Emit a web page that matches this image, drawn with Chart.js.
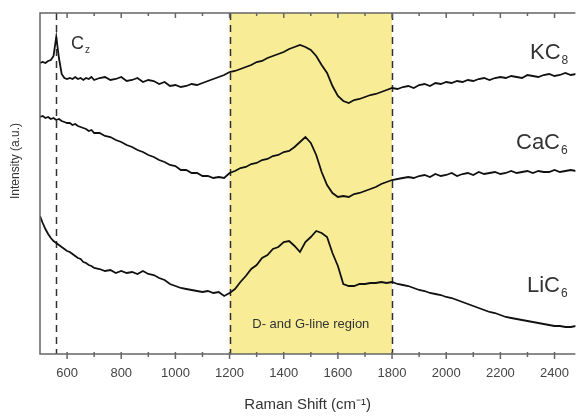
<!DOCTYPE html>
<html>
<head>
<meta charset="utf-8">
<script src="https://cdn.jsdelivr.net/npm/chart.js@4.4.1/dist/chart.umd.min.js"></script>
<style>
  body { margin: 0; background: #fff; }
</style>
</head>
<body>
<canvas id="ramanChart" width="581" height="417"></canvas>
<script>
// Raman shift (cm-1) sample positions, finer near the Cz peak
const shift = [
  500, 510, 520, 530, 540, 550, 560, 570, 580, 590, 600, 610, 620, 630, 640, 650, 660, 670, 680, 690, 700,
  720, 740, 760, 780, 800, 820, 840, 860, 880, 900, 920, 940, 960, 980, 1000, 1020, 1040, 1060, 1080, 1100,
  1120, 1140, 1160, 1180, 1200, 1220, 1240, 1260, 1280, 1300, 1320, 1340, 1360, 1380, 1400, 1420, 1440, 1460,
  1480, 1500, 1520, 1540, 1560, 1580, 1600, 1620, 1640, 1660, 1680, 1700, 1720, 1740, 1760, 1780, 1800,
  1820, 1840, 1860, 1880, 1900, 1920, 1940, 1960, 1980, 2000, 2020, 2040, 2060, 2080, 2100, 2120, 2140,
  2160, 2180, 2200, 2220, 2240, 2260, 2280, 2300, 2320, 2340, 2360, 2380, 2400, 2420, 2440, 2460, 2480
];

// intensities (a.u., curves already offset as in the figure)
const kc8 = [
  291, 292, 291, 293, 294, 298, 317, 296, 280, 276, 275, 276, 275, 277, 275, 276, 274, 276, 275, 277, 274,
  276, 277, 274, 275, 277, 273, 274, 276, 272, 274, 273, 270, 272, 268, 269, 267, 268, 270, 269, 271,
  273, 275, 277, 279, 282, 283, 285, 287, 289, 292, 293, 296, 298, 300, 302, 305, 307, 309,
  307, 304, 298, 289, 281, 268, 258, 253, 251, 254, 255, 257, 259, 260, 262, 264, 266,
  265, 267, 268, 266, 269, 270, 268, 271, 270, 272, 271, 273, 272, 274, 273, 275, 276,
  274, 276, 277, 276, 278, 277, 276, 279, 278, 277, 279, 280, 278, 279, 281, 279, 280
];
const cac6 = [
  237, 238, 236, 237, 235, 236, 234, 235, 233, 232, 231, 231, 229, 230, 228, 227, 226, 225, 223, 224, 221,
  221, 218, 217, 214, 212, 209, 207, 204, 202, 199, 197, 194, 192, 189, 188, 184, 184, 181, 181, 178,
  178, 176, 177, 176, 181, 183, 186, 187, 190, 191, 194, 195, 198, 199, 202, 203, 207, 212,
  217, 211, 199, 182, 169, 161, 157, 158, 157, 160, 161, 163, 165, 167, 170, 172, 174,
  175, 176, 177, 176, 178, 179, 177, 180, 178, 179, 181, 178, 180, 181, 179, 182, 180,
  181, 182, 180, 181, 183, 181, 182, 183, 181, 183, 182, 182, 184, 182, 183, 184, 183
];
const lic6 = [
  138, 131, 125, 120, 116, 113, 111, 109, 107, 105, 103, 102, 100, 98, 96, 95, 92, 91, 89, 88, 86,
  85, 83, 84, 81, 83, 81, 82, 80, 83, 80, 79, 76, 74, 70, 68, 66, 65, 64, 63, 62,
  63, 61, 62, 58, 61, 65, 72, 78, 85, 89, 96, 99, 105, 107, 112, 113, 108, 102,
  112, 117, 123, 121, 117, 101, 88, 70, 68, 68, 70, 70, 71, 71, 72, 71, 72,
  70, 69, 68, 66, 64, 63, 61, 60, 59, 57, 56, 54, 52, 50, 48, 46, 44,
  42, 41, 39, 37, 36, 35, 34, 33, 32, 31, 30, 29, 28, 28, 27, 27, 28, 29
];

const tickValues = [600, 700, 800, 900, 1000, 1100, 1200, 1300, 1400, 1500, 1600, 1700, 1800, 1900, 2000, 2100, 2200, 2300, 2400];
const bandRange = [1200, 1800];
const czShift = 560;

const toPoints = ys => ys.map((y, i) => ({ x: shift[i], y }));

const txt = "#333";
const family = "'Liberation Sans', Arial, sans-serif";

function subLabel(ctx, main, sub, x, y, size) {
  ctx.font = size + "px " + family;
  ctx.fillText(main, x, y);
  const w = ctx.measureText(main).width;
  ctx.font = Math.round(size * 0.55) + "px " + family;
  ctx.fillText(sub, x + w + 1, y + size * 0.22);
}

const decor = {
  id: "decor",
  beforeDatasetsDraw(chart) {
    const { ctx, chartArea: a, scales: { x } } = chart;
    const x1 = x.getPixelForValue(bandRange[0]);
    const x2 = x.getPixelForValue(bandRange[1]);
    ctx.save();
    ctx.fillStyle = "rgb(248, 237, 150)";
    ctx.fillRect(x1, a.top, x2 - x1, a.bottom - a.top);
    ctx.strokeStyle = "#333";
    ctx.lineWidth = 1.5;
    ctx.setLineDash([7, 5]);
    [czShift, bandRange[0], bandRange[1]].forEach(v => {
      const px = Math.round(x.getPixelForValue(v)) + 0.5;
      ctx.beginPath();
      ctx.moveTo(px, a.top);
      ctx.lineTo(px, a.bottom);
      ctx.stroke();
    });
    ctx.restore();
  },
  afterDatasetsDraw(chart) {
    const { ctx, chartArea: a, scales: { x } } = chart;
    ctx.save();
    // frame
    ctx.strokeStyle = "#666";
    ctx.lineWidth = 1.5;
    ctx.beginPath();
    ctx.moveTo(a.right, a.top);
    ctx.lineTo(a.left, a.top);
    ctx.lineTo(a.left, a.bottom);
    ctx.lineTo(a.right, a.bottom);
    ctx.stroke();
    // tick marks, every 100 cm-1
    tickValues.forEach(v => {
      const px = x.getPixelForValue(v);
      const len = v % 200 === 0 ? 5 : 3;
      ctx.beginPath();
      ctx.moveTo(px, a.top);
      ctx.lineTo(px, a.top + len);
      ctx.moveTo(px, a.bottom - 2);
      ctx.lineTo(px, a.bottom + len);
      ctx.stroke();
    });

    // labels
    ctx.fillStyle = txt;
    ctx.textBaseline = "alphabetic";
    ctx.textAlign = "left";
    subLabel(ctx, "C", "z", 71, 49, 18);
    subLabel(ctx, "KC", "8", 530, 59, 22);
    subLabel(ctx, "CaC", "6", 516, 149, 22);
    subLabel(ctx, "LiC", "6", 527, 292, 22);

    ctx.font = "13px " + family;
    ctx.textAlign = "center";
    ctx.fillText("D- and G-line region", (x.getPixelForValue(bandRange[0]) + x.getPixelForValue(bandRange[1])) / 2, 328);

    // y axis title
    ctx.translate(19, 161);
    ctx.rotate(-Math.PI / 2);
    ctx.font = "12px " + family;
    ctx.fillText("Intensity (a.u.)", 0, 0);
    ctx.restore();
  }
};

const line = (data) => ({
  data: toPoints(data),
  borderColor: "#111",
  borderWidth: 1.8,
  pointRadius: 0,
  tension: 0
});

new Chart(document.getElementById("ramanChart"), {
  type: "line",
  data: {
    datasets: [line(kc8), line(cac6), line(lic6)]
  },
  options: {
    responsive: false,
    animation: false,
    devicePixelRatio: 1,
    layout: { padding: { top: 13, right: 0, bottom: 0, left: 0 } },
    plugins: { legend: { display: false }, tooltip: { enabled: false } },
    scales: {
      x: {
        type: "linear",
        min: 500,
        max: 2477,
        afterBuildTicks: s => { s.ticks = tickValues.map(v => ({ value: v })); },
        afterFit: s => { s.height = 63; },
        grid: { display: false, drawTicks: false },
        border: { display: false },
        ticks: {
          autoSkip: false,
          maxRotation: 0,
          padding: 12,
          color: "#444",
          font: { family, size: 13 },
          callback: v => (v % 200 === 0 ? String(v) : "")
        },
        title: {
          display: true,
          text: "Raman Shift (cm⁻¹)",
          color: txt,
          font: { family, size: 15 },
          padding: { top: 0, bottom: 3 }
        }
      },
      y: {
        min: 0,
        max: 341,
        afterFit: s => { s.width = 40; },
        grid: { display: false, drawTicks: false },
        border: { display: false },
        ticks: { display: false }
      }
    }
  },
  plugins: [decor]
});
</script>
</body>
</html>
